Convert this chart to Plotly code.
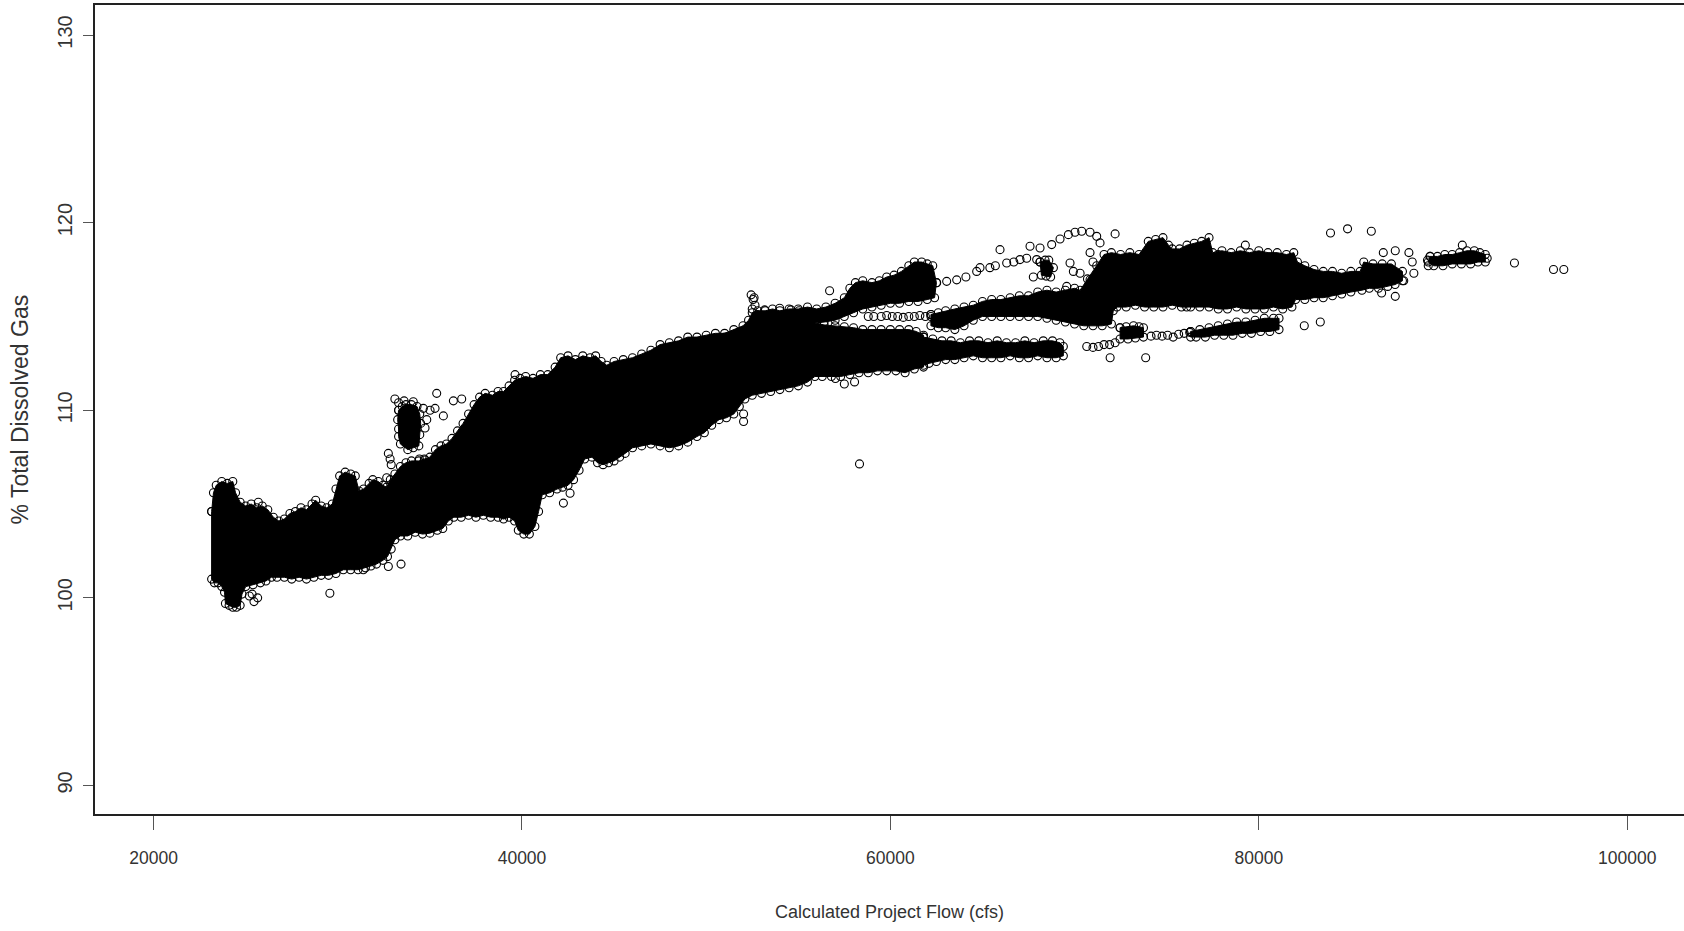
import plotly.graph_objects as go

# ---- Data: (Calculated Project Flow cfs, % Total Dissolved Gas) ----
# Outline of the solid, over-plotted main body of readings
core_outline = [
    (23150, 104.6), (23250, 105.6), (23400, 106.0), (23700, 106.2), (24000, 106.1), (24300, 106.2),
    (24450, 105.6), (24700, 105.1), (25000, 104.9), (25300, 105.0), (25600, 104.8), (25900, 104.9),
    (26200, 104.7), (26500, 104.3), (26800, 104.1), (27100, 104.2), (27400, 104.5), (27700, 104.6),
    (28000, 104.8), (28300, 104.7), (28600, 105.0), (28800, 105.2), (29100, 104.9), (29400, 104.8),
    (29700, 105.0), (29900, 105.8), (30100, 106.5), (30400, 106.7), (30700, 106.6), (30950, 106.5),
    (31150, 105.7), (31400, 105.8), (31700, 106.1), (31900, 106.3), (32200, 106.2), (32450, 106.0),
    (32650, 105.9), (32850, 106.3), (33100, 106.6), (33400, 107.0), (33700, 107.2), (34000, 107.3),
    (34400, 107.3), (34700, 107.4), (35000, 107.5), (35300, 107.9), (35600, 108.1), (35900, 108.2),
    (36200, 108.5), (36500, 108.9), (36800, 109.3), (37100, 109.8), (37400, 110.3), (37700, 110.7),
    (38000, 110.9), (38400, 110.8), (38700, 111.0), (39000, 111.0), (39300, 111.3), (39600, 111.6),
    (39900, 111.7), (40200, 111.8), (40600, 111.7), (41000, 111.9), (41400, 111.9), (41800, 112.3),
    (42100, 112.8), (42500, 112.9), (42900, 112.7), (43300, 112.9), (43700, 112.8), (44000, 112.9),
    (44300, 112.6), (44600, 112.4), (45000, 112.6), (45500, 112.7), (46000, 112.8), (46500, 113.0),
    (47000, 113.2), (47500, 113.5), (48000, 113.6), (48500, 113.7), (49000, 113.9), (49500, 113.9),
    (50000, 114.0), (50500, 114.1), (51000, 114.1), (51500, 114.3), (52000, 114.5), (52300, 114.8),
    (52500, 115.2), (52800, 115.3), (53200, 115.3), (53600, 115.4), (54000, 115.3), (54500, 115.4),
    (55000, 115.4), (55500, 115.5), (56000, 115.4), (56500, 115.5), (57000, 115.7), (57500, 116.0),
    (57800, 116.5), (58100, 116.8), (58500, 116.9), (59000, 116.8), (59400, 116.9), (59800, 117.1),
    (60200, 117.2), (60600, 117.4), (61000, 117.7), (61300, 117.9), (61700, 117.9), (62000, 117.8),
    (62300, 117.7), (62500, 116.8), (62400, 116.0), (62000, 115.9), (61500, 115.8), (61000, 115.8),
    (60500, 115.7), (60000, 115.7), (59500, 115.6), (59000, 115.5), (58500, 115.4), (58000, 115.2),
    (57500, 115.0), (57000, 114.8), (56400, 114.7), (55900, 114.65), (56400, 114.55), (57000, 114.5),
    (57500, 114.45), (58000, 114.4), (58500, 114.3), (59000, 114.3), (59500, 114.3), (60000, 114.3),
    (60500, 114.3), (61000, 114.3), (61400, 114.2), (61800, 114.0), (61800, 112.3), (61300, 112.2),
    (60800, 112.0), (60300, 112.1), (59800, 112.1), (59300, 112.1), (58800, 112.0), (58300, 112.0),
    (57800, 111.9), (57300, 111.8), (56800, 111.8), (56300, 111.8), (55900, 111.8), (55500, 111.5),
    (55000, 111.3), (54500, 111.2), (54000, 111.1), (53500, 111.0), (53000, 110.9), (52500, 110.8),
    (52100, 110.6), (51800, 110.2), (51500, 109.8), (51100, 109.6), (50700, 109.5), (50300, 109.2),
    (49900, 108.8), (49500, 108.6), (49000, 108.3), (48500, 108.1), (48000, 108.0), (47500, 108.1),
    (47000, 108.2), (46500, 108.1), (46000, 108.0), (45600, 107.7), (45300, 107.5), (45000, 107.3),
    (44700, 107.2), (44400, 107.1), (44100, 107.2), (43800, 107.5), (43400, 107.4), (43100, 106.8),
    (42800, 106.3), (42500, 106.0), (42200, 105.9), (41900, 105.8), (41500, 105.6), (41100, 105.5),
    (40900, 104.6), (40700, 103.8), (40400, 103.4), (40100, 103.4), (39800, 103.6), (39600, 104.1),
    (39300, 104.3), (39000, 104.2), (38700, 104.3), (38300, 104.3), (37900, 104.4), (37500, 104.3),
    (37100, 104.4), (36700, 104.3), (36300, 104.3), (36000, 104.1), (35700, 103.7), (35400, 103.6),
    (35000, 103.45), (34600, 103.4), (34200, 103.5), (33800, 103.3), (33400, 103.3), (33100, 103.1),
    (32900, 102.6), (32700, 102.2), (32450, 102.0), (32100, 101.8), (31800, 101.7), (31500, 101.6),
    (31100, 101.5), (30700, 101.5), (30300, 101.5), (29900, 101.3), (29500, 101.2), (29100, 101.2),
    (28700, 101.1), (28300, 101.0), (27900, 101.1), (27500, 101.0), (27100, 101.1), (26700, 101.1),
    (26400, 101.1), (26100, 100.9), (25800, 100.8), (25400, 100.7), (25000, 100.6), (24800, 100.2),
    (24700, 99.6), (24500, 99.5), (24300, 99.5), (24100, 99.6), (23900, 99.7), (23850, 100.3),
    (23700, 100.6), (23500, 100.8), (23300, 100.8), (23150, 101.0),
]
# Cluster of readings near 110 % at ~34,000 cfs
cluster110_outline = [
    (33300, 110.0), (33500, 110.2), (33700, 110.3), (34000, 110.3), (34300, 110.2), (34450, 109.8),
    (34500, 109.3), (34450, 108.7), (34400, 108.1), (34100, 108.0), (33800, 107.9), (33400, 108.2),
    (33300, 108.6), (33300, 109.0), (33250, 109.5),
]
# Lower branch (~113 %) from 62,000 to 69,400 cfs
lower_branch_outline = [
    (61800, 113.9), (62300, 113.8), (62800, 113.7), (63300, 113.7), (63800, 113.6), (64300, 113.7),
    (64800, 113.7), (65300, 113.6), (65800, 113.7), (66300, 113.6), (66800, 113.6), (67300, 113.7),
    (67800, 113.6), (68300, 113.7), (68800, 113.7), (69200, 113.6), (69390, 113.4), (69390, 112.9),
    (69000, 112.8), (68500, 112.8), (68000, 112.9), (67500, 112.8), (67000, 112.8), (66500, 112.9),
    (66000, 112.8), (65500, 112.8), (65000, 112.8), (64500, 112.9), (64000, 112.8), (63500, 112.7),
    (63000, 112.7), (62500, 112.6), (62100, 112.5), (61800, 112.4),
]
# Middle / upper branch and the high-flow mass
middle_branch_outline = [
    (62200, 115.1), (62600, 115.2), (63000, 115.3), (63500, 115.4), (64000, 115.5), (64500, 115.6),
    (65000, 115.8), (65500, 115.9), (66000, 115.9), (66500, 116.0), (67000, 116.1), (67500, 116.1),
    (68000, 116.3), (68500, 116.4), (69000, 116.3), (69500, 116.4), (70000, 116.5), (70300, 116.4),
    (70700, 117.0), (71200, 117.7), (71600, 118.3), (72000, 118.4), (72500, 118.3), (73000, 118.4),
    (73500, 118.3), (74000, 119.0), (74400, 119.1), (74800, 119.2), (75100, 118.8), (75300, 118.6),
    (75700, 118.6), (76100, 118.8), (76500, 118.9), (76900, 119.0), (77300, 119.2), (77500, 118.4),
    (78000, 118.5), (78500, 118.4), (79000, 118.5), (79500, 118.4), (80000, 118.5), (80500, 118.4),
    (81000, 118.4), (81500, 118.3), (81900, 118.4), (82100, 117.9), (82500, 117.7), (83000, 117.5),
    (83500, 117.4), (84000, 117.4), (84500, 117.3), (85000, 117.4), (85500, 117.4), (85700, 117.9),
    (86200, 117.8), (86700, 117.8), (87200, 117.8), (87800, 117.4), (87800, 116.9), (87400, 116.7),
    (87000, 116.6), (86500, 116.5), (86000, 116.5), (85600, 116.4), (85000, 116.3), (84500, 116.2),
    (84000, 116.1), (83500, 116.0), (83000, 116.0), (82500, 115.9), (82000, 115.9), (81800, 115.5),
    (81300, 115.4), (80800, 115.5), (80300, 115.4), (79800, 115.4), (79300, 115.4), (78800, 115.5),
    (78300, 115.4), (77800, 115.4), (77300, 115.5), (76800, 115.5), (76300, 115.5), (75800, 115.5),
    (75300, 115.6), (74800, 115.5), (74300, 115.5), (73800, 115.5), (73300, 115.6), (72800, 115.5),
    (72300, 115.5), (72100, 115.3), (72000, 114.6), (71500, 114.5), (71000, 114.5), (70500, 114.5),
    (70000, 114.6), (69500, 114.7), (69000, 114.8), (68500, 114.9), (68000, 115.0), (67500, 115.0),
    (67000, 115.0), (66500, 115.0), (66000, 115.0), (65500, 115.0), (65000, 115.0), (64500, 114.8),
    (64000, 114.5), (63500, 114.3), (63000, 114.4), (62600, 114.4), (62200, 114.5),
]
# Small dense groups
loop_blob_outline = [(68124, 117.9), (68400, 118.0), (68600, 118.0), (68850, 117.6), (68700, 117.1),
                     (68450, 117.15), (68200, 117.2)]
lower_right_blob_outline = [(72470, 114.4), (72800, 114.45), (73200, 114.5), (73500, 114.45), (73740, 114.4),
                            (73740, 113.9), (73300, 113.85), (72900, 113.8), (72470, 113.8)]
lower_right_chain_outline = [
    (76300, 114.2), (76800, 114.3), (77300, 114.4), (77800, 114.5), (78300, 114.6), (78800, 114.7),
    (79300, 114.7), (79800, 114.8), (80300, 114.9), (80800, 114.9), (81100, 114.9), (81100, 114.3),
    (80600, 114.2), (80100, 114.2), (79600, 114.1), (79100, 114.1), (78600, 114.0), (78100, 114.0),
    (77600, 114.0), (77100, 113.9), (76600, 113.9), (76300, 113.9),
]
right_cluster_outline = [
    (89300, 118.2), (89700, 118.2), (90100, 118.3), (90500, 118.3), (90900, 118.4), (91300, 118.5),
    (91700, 118.5), (92000, 118.4), (92300, 118.3), (92300, 117.9), (91900, 117.9), (91500, 117.8),
    (91000, 117.8), (90500, 117.8), (90000, 117.7), (89500, 117.7), (89200, 117.9),
]

# Individual (sparse / outlying) readings
sparse_flow = [
    25686, 25200, 25450, 25650, 25350, 29570, 31388, 32745, 33433, 32655, 32745, 32840, 32900, 34430, 34736,
    33100, 33300, 33600, 34100, 34646, 35010, 35280, 35732, 35370, 34736, 34830, 36275, 36727,
    38360, 38540, 39624, 42248, 42610,
    51030, 52440, 52550, 52650, 52500, 52760, 52600, 56700, 58324, 57015, 58055, 57500, 52030, 52030,
    53170, 53990, 54600, 55040,
    58800, 59100, 59500, 59800, 60100, 60400, 60700, 61000, 61300, 61600, 61900, 62200,
    62513, 63056, 63600, 64100, 64685, 64866, 65400, 65700, 66314, 66700, 67038, 67400, 65952,
    67581, 68124, 68757, 69210, 69663, 70024, 70386, 70839, 71201, 71382, 72200,
    67943, 69753, 69934, 70300, 70839, 71000, 70839, 67760, 69572,
    70660, 71000, 71300, 71600, 71900, 72200, 71930, 73860,
    74150, 74450, 74750, 75050, 75350, 75650, 75950, 76250, 82470, 83340, 76088,
    86760, 87410, 88150, 88330, 88420, 87870, 87410, 86670, 79270, 77790,
    83895, 84820, 86110,
    89160, 89200, 91050, 92400, 93880, 96000, 96560,
]
sparse_tdg = [
    105.1, 100.1, 99.8, 100.0, 100.2, 100.25, 101.5, 101.67, 101.8, 106.4, 107.7, 107.4, 107.1, 107.4, 107.35,
    110.6, 110.4, 110.5, 110.45, 110.1, 110.0, 110.1, 109.7, 110.9, 109.05, 109.5, 110.5, 110.6,
    109.3, 109.2, 111.9, 105.05, 105.58,
    113.9, 116.15, 115.9, 115.6, 115.4, 115.1, 116.0, 116.37, 107.14, 111.69, 111.51, 111.4, 109.8, 109.4,
    115.35, 115.44, 115.35, 115.3,
    115.0, 115.0, 115.0, 115.05, 115.0, 115.0, 114.95, 115.0, 115.0, 115.05, 115.0, 115.0,
    116.8, 116.87, 116.95, 117.1, 117.4, 117.6, 117.6, 117.7, 117.85, 117.9, 118.03, 118.1, 118.56,
    118.74, 118.65, 118.83, 119.13, 119.36, 119.49, 119.54, 119.49, 119.27, 118.92, 119.4,
    118.03, 117.85, 117.4, 117.3, 118.4, 117.9, 116.96, 117.1, 116.6,
    113.4, 113.35, 113.4, 113.5, 113.5, 113.6, 112.8, 112.8,
    113.95, 114.0, 113.95, 114.0, 113.9, 114.05, 114.1, 114.15, 114.5, 114.7, 115.5,
    118.4, 118.5, 118.4, 117.9, 117.3, 116.9, 116.07, 116.25, 118.8, 118.3,
    119.45, 119.67, 119.54,
    118.0, 117.7, 118.8, 118.1, 117.85, 117.5, 117.5,
]

x_ticks = [20000, 40000, 60000, 80000, 100000]
y_ticks = [90, 100, 110, 120, 130]

# ---- Figure ----
INK = "black"
marker = dict(symbol="circle-open", size=8, color=INK, line=dict(width=1.1, color=INK))

fig = go.Figure()


def add_mass(outline, fill):
    xs = [p[0] for p in outline] + [outline[0][0]]
    ys = [p[1] for p in outline] + [outline[0][1]]
    fig.add_trace(go.Scatter(
        x=xs, y=ys, mode="lines+markers", fill="toself", fillcolor=fill,
        line=dict(color=fill, width=1), marker=marker,
        hoverinfo="skip", showlegend=False,
    ))


for outline in [core_outline, cluster110_outline, lower_branch_outline, middle_branch_outline,
                loop_blob_outline, lower_right_blob_outline, lower_right_chain_outline,
                right_cluster_outline]:
    add_mass(outline, INK)

fig.add_trace(go.Scatter(x=sparse_flow, y=sparse_tdg, mode="markers", marker=marker,
                         hoverinfo="skip", showlegend=False))

TXT = "#333333"
sans = "Liberation Sans, Arial, sans-serif"

fig.update_layout(
    width=1684, height=931,
    margin=dict(l=95, r=0, t=5, b=117),
    paper_bgcolor="white", plot_bgcolor="white",
    showlegend=False,
    xaxis=dict(
        range=[16819, 103085], tickvals=x_ticks, ticktext=[str(v) for v in x_ticks],
        showgrid=False, zeroline=False, showline=True, linecolor="#222222", linewidth=2, mirror=True,
        ticks="outside", ticklen=14, tickwidth=1, tickcolor="#555555", ticklabelstandoff=13,
        tickfont=dict(family=sans, size=17.5, color=TXT),
    ),
    yaxis=dict(
        range=[88.48, 131.6], tickvals=y_ticks, ticktext=[str(v) for v in y_ticks], tickangle=-90,
        showgrid=False, zeroline=False, showline=True, linecolor="#222222", linewidth=2, mirror=False,
        ticks="outside", ticklen=10, tickwidth=1, tickcolor="#555555", ticklabelstandoff=3,
        tickfont=dict(family=sans, size=20, color=TXT),
    ),
    annotations=[
        dict(text="Calculated Project Flow (cfs)", xref="paper", yref="paper", x=0.5, y=-0.121,
             xanchor="center", yanchor="middle", showarrow=False,
             font=dict(family=sans, size=18, color=TXT)),
        dict(text="% Total Dissolved Gas", xref="paper", yref="paper", x=-0.0472, y=0.5,
             xanchor="center", yanchor="middle", textangle=-90, showarrow=False,
             font=dict(family=sans, size=23, color=TXT)),
    ],
)

# remove the default page margin so the figure sits at the window origin
fig.write_html("out.html", config={"displayModeBar": False},
               post_script="document.body.style.margin='0px';")
